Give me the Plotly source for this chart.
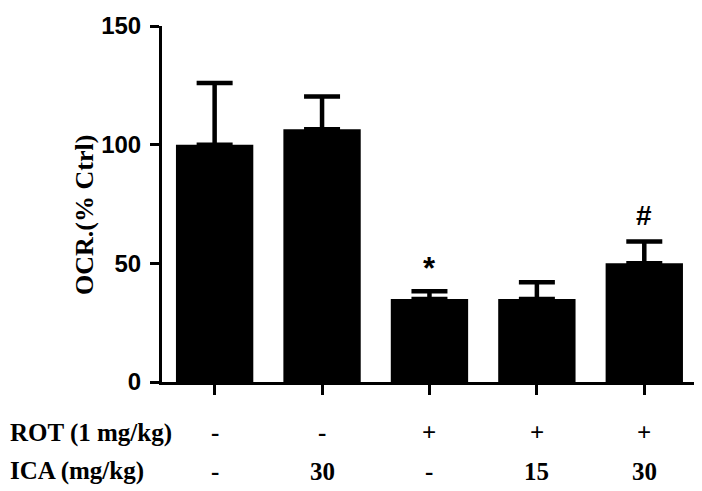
import plotly.graph_objects as go

# OCR bars (% of control), upper SEM, significance marks
groups = ["G1", "G2", "G3", "G4", "G5"]
ocr = [100, 106.5, 35, 35, 50]
sem = [26, 13.8, 3.2, 7, 9.2]
marks = ["*", "#"]
mark_groups = ["G3", "G5"]
mark_y = [48, 70]

rot_row = ["-", "-", "+", "+", "+"]
ica_row = ["-", "30", "-", "15", "30"]
row_labels = ["ROT (1 mg/kg)", "ICA (mg/kg)"]

SERIF = "Times New Roman, Liberation Serif, serif"
SANS = "Arial, Liberation Sans, sans-serif"
ROW_Y = (-0.142, -0.251)  # paper coords of the two table rows

fig = go.Figure(
    go.Bar(
        x=groups, y=ocr, width=0.72,
        marker=dict(color="black", line=dict(color="black", width=0)),
        error_y=dict(type="data", array=sem, arrayminus=[0] * len(sem), symmetric=False,
                     color="black", thickness=4.5, width=18),
    )
)

# significance marks above the error bars
for g, m, y in zip(mark_groups, marks, mark_y):
    fig.add_annotation(x=g, y=y, text=m, showarrow=False, xanchor="center", yanchor="middle",
                       font=dict(family=SANS, size=31 if m == "*" else 28, color="black", weight="bold"))

# treatment table under the axis
for row, yp in zip((rot_row, ica_row), ROW_Y):
    for g, t in zip(groups, row):
        fig.add_annotation(x=g, y=yp, xref="x", yref="paper", text=t, showarrow=False,
                           xanchor="center", yanchor="middle",
                           font=dict(family=SERIF, size=25, color="black", weight="bold"))
for lab, yp in zip(row_labels, ROW_Y):
    fig.add_annotation(x=-0.287, y=yp, xref="paper", yref="paper", xanchor="left", yanchor="middle",
                       text=lab, showarrow=False,
                       font=dict(family=SERIF, size=25, color="black", weight="bold"))

# y title as a rotated annotation so it sits where the original has it
fig.add_annotation(x=-0.145, y=0.47, xref="paper", yref="paper", text="OCR.(% Ctrl)", textangle=-90,
                   xanchor="center", yanchor="middle", showarrow=False,
                   font=dict(family=SERIF, size=26, color="black", weight="bold"))

# page body has an 8px margin, so the figure is 8px smaller on each axis
fig.update_layout(
    width=694, height=483,
    margin=dict(l=154, r=4, t=7, b=109),
    plot_bgcolor="white", paper_bgcolor="white",
    showlegend=False,
    xaxis=dict(range=[-0.49, 4.5], showticklabels=False, ticks="outside", ticklen=10, tickwidth=3,
               tickcolor="black", showline=True, linecolor="black", linewidth=3, showgrid=False,
               zeroline=False),
    yaxis=dict(range=[0, 150], tickvals=[0, 50, 100, 150], ticks="outside", ticklen=9, tickwidth=3,
               tickcolor="black", showline=True, linecolor="black", linewidth=3, showgrid=False,
               zeroline=False, tickfont=dict(family=SANS, size=24, color="black", weight="bold"),
               ticklabelstandoff=4, ticklabeloverflow="allow"),
)

fig.write_html("out.html")
